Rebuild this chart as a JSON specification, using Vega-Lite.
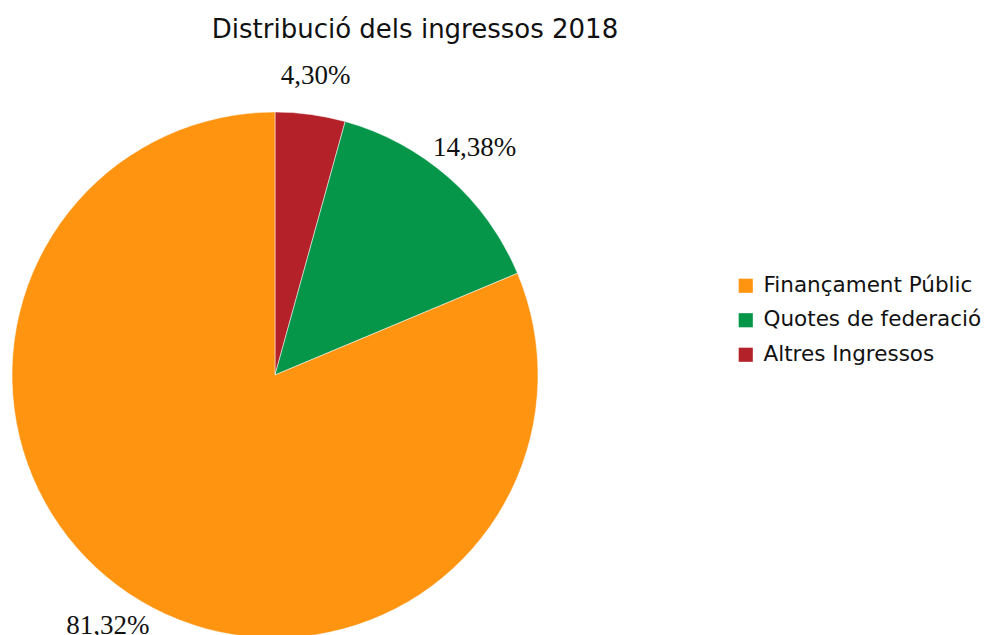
{
  "$schema": "https://vega.github.io/schema/vega-lite/v6.json",
  "autosize": "none",
  "padding": {"top": 60, "left": 0, "right": 437, "bottom": 0},
  "width": 550,
  "height": 630,
  "background": "white",
  "title": {
    "text": "Distribució dels ingressos 2018",
    "font": "DejaVu Sans",
    "fontSize": 26,
    "fontWeight": "normal",
    "color": "#111111",
    "anchor": "middle",
    "frame": "group",
    "dx": 140,
    "offset": 17
  },
  "data": {
    "values": [
      {"cat": "Altres Ingressos", "val": 4.30, "label": "4,30%", "ord": 1},
      {"cat": "Quotes de federació", "val": 14.38, "label": "14,38%", "ord": 2},
      {"cat": "Finançament Públic", "val": 81.32, "label": "81,32%", "ord": 3}
    ]
  },
  "encoding": {
    "theta": {"field": "val", "type": "quantitative", "stack": true},
    "order": {"field": "ord", "type": "quantitative"},
    "color": {
      "field": "cat",
      "type": "nominal",
      "scale": {
        "domain": ["Finançament Públic", "Quotes de federació", "Altres Ingressos"],
        "range": ["#FF9410", "#05964A", "#B42129"]
      },
      "legend": {
        "title": null,
        "orient": "none",
        "legendX": 735,
        "legendY": 215,
        "symbolType": "square",
        "symbolSize": 200,
        "symbolStrokeWidth": 0,
        "labelFont": "DejaVu Sans",
        "labelFontSize": 21.5,
        "labelColor": "#111111",
        "labelLimit": 400,
        "rowPadding": 11.5,
        "labelOffset": 7
      }
    }
  },
  "layer": [
    {
      "mark": {"type": "arc", "outerRadius": 263, "stroke": "white", "strokeWidth": 0.5}
    },
    {
      "mark": {"type": "text", "radius": 302, "font": "Liberation Serif", "fontSize": 27, "color": "#111111"},
      "encoding": {
        "text": {"field": "label", "type": "nominal"},
        "color": {"value": "#111111"}
      }
    }
  ],
  "config": {"view": {"stroke": null}}
}
